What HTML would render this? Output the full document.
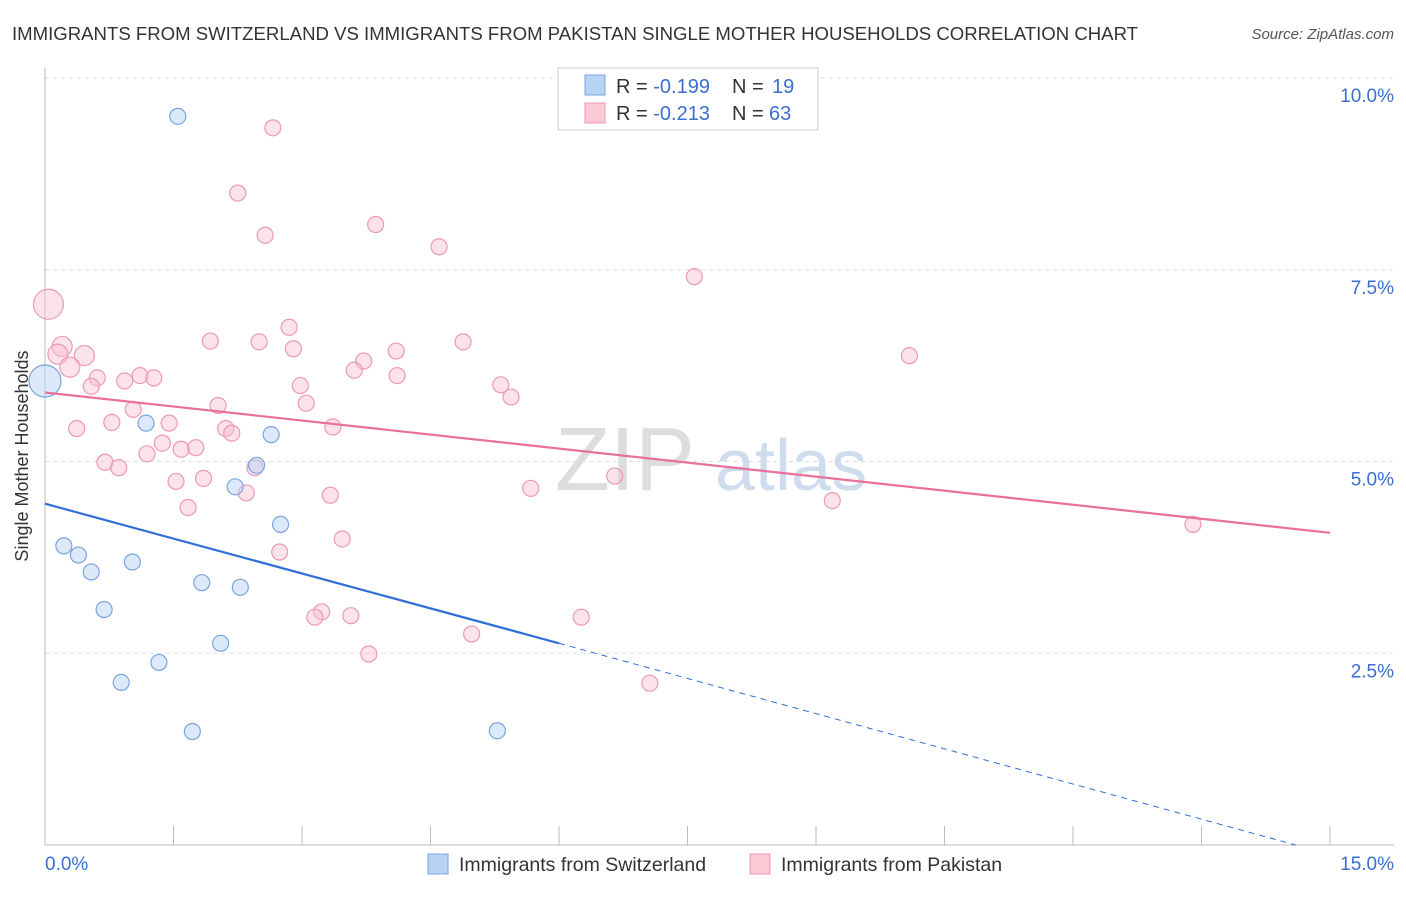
<!DOCTYPE html>
<html><head><meta charset="utf-8"><style>
body{margin:0;background:#fff;font-family:"Liberation Sans",sans-serif;}
svg text{font-family:"Liberation Sans",sans-serif;}
</style></head><body>
<svg width="1406" height="892">
<text x="12" y="40" font-size="18" fill="#333" textLength="1126" lengthAdjust="spacingAndGlyphs">IMMIGRANTS FROM SWITZERLAND VS IMMIGRANTS FROM PAKISTAN SINGLE MOTHER HOUSEHOLDS CORRELATION CHART</text>
<text x="1394" y="39" font-size="15" fill="#555" font-style="italic" text-anchor="end">Source: ZipAtlas.com</text>
<g id="grid"></g>
<text x="555" y="490" font-size="90" fill="#ddd" font-family="Liberation Serif">ZIP</text>
<text x="715" y="490" font-size="72" fill="#cfdcee">atlas</text>
<g id="marks"></g>
<text x="28" y="456" font-size="18" fill="#333" text-anchor="middle" transform="rotate(-90 28 456)">Single Mother Households</text>
<text x="45" y="870" font-size="19" fill="#3a6fd0">0.0%</text>
<text x="1394" y="870" font-size="19" fill="#3a6fd0" text-anchor="end">15.0%</text>
<rect x="558" y="68" width="260" height="62" fill="#fff" stroke="#ccc"/>
<rect x="585" y="75" width="20" height="20" fill="#b9d3f5" stroke="#7aa4e0"/>
<rect x="585" y="103" width="20" height="20" fill="#fbc8d6" stroke="#eb9ab1"/>
<text x="616" y="93" font-size="20" fill="#333">R = <tspan fill="#3a6fd0">-0.199</tspan></text>
<text x="732" y="93" font-size="20" fill="#333">N = </text>
<text x="772" y="93" font-size="20" fill="#3a6fd0">19</text>
<text x="616" y="120" font-size="20" fill="#333">R = <tspan fill="#3a6fd0">-0.213</tspan></text>
<text x="732" y="120" font-size="20" fill="#333">N = </text>
<text x="769" y="120" font-size="20" fill="#3a6fd0">63</text>
<rect x="428" y="854" width="20" height="20" fill="#b9d3f5" stroke="#7aa4e0"/>
<text x="459" y="871" font-size="19.5" fill="#333">Immigrants from Switzerland</text>
<rect x="750" y="854" width="20" height="20" fill="#fbc8d6" stroke="#eb9ab1"/>
<text x="781" y="871" font-size="19.5" fill="#333">Immigrants from Pakistan</text>
</svg>
<script>
const yTicks=[2.5,5.0,7.5,10.0];
const swissX=[1.55,0.0,1.18,2.64,2.47,2.22,2.75,0.22,0.39,0.54,1.02,1.83,2.28,0.69,2.05,1.33,0.89,1.72,5.28];
const swissY=[9.5,6.05,5.5,5.35,4.95,4.67,4.18,3.9,3.78,3.56,3.69,3.42,3.36,3.07,2.63,2.38,2.12,1.48,1.49];
const swissR=[8,16,8,8,8,8,8,8,8,8,8,8,8,8,8,8,8,8,8];
const pakX=[2.66,2.25,2.57,3.86,4.6,7.58,0.04,0.2,0.15,0.46,0.29,2.85,1.93,2.5,2.9,4.1,4.88,3.72,3.61,4.11,10.09,0.61,0.93,1.11,1.27,0.54,2.98,5.32,5.44,3.05,1.03,2.02,0.78,1.45,0.37,2.11,2.18,3.36,1.37,1.59,1.76,0.7,1.19,0.86,2.45,1.53,1.85,6.65,2.35,3.33,5.67,1.67,9.19,13.4,3.47,2.74,3.23,3.15,3.57,6.26,4.98,3.78,7.06];
const pakY=[9.35,8.5,7.95,8.09,7.8,7.41,7.05,6.5,6.4,6.38,6.23,6.75,6.57,6.56,6.47,6.44,6.56,6.31,6.19,6.12,6.38,6.09,6.05,6.12,6.09,5.98,5.99,6.0,5.84,5.76,5.68,5.73,5.51,5.5,5.43,5.43,5.37,5.45,5.24,5.16,5.18,4.99,5.1,4.92,4.92,4.74,4.78,4.81,4.59,4.56,4.65,4.4,4.49,4.18,3.99,3.82,3.04,2.97,2.99,2.97,2.75,2.49,2.11];
const pakR=[8,8,8,8,8,8,15,10,10,10,10,8,8,8,8,8,8,8,8,8,8,8,8,8,8,8,8,8,8,8,8,8,8,8,8,8,8,8,8,8,8,8,8,8,8,8,8,8,8,8,8,8,8,8,8,8,8,8,8,8,8,8,8];
const swissLine=[4.45,2.63,0.0];
const pakLine=[5.9,4.07];
const X0=45,X1=1330,Y0=845,YS=76.7;
const sx=v=>X0+(X1-X0)*v/15, sy=v=>Y0-v*YS;
const NS="http://www.w3.org/2000/svg";
function mk(t,a,p){const e=document.createElementNS(NS,t);for(const k in a)e.setAttribute(k,a[k]);p.appendChild(e);return e;}
const g=document.getElementById('grid'),m=document.getElementById('marks');
yTicks.forEach(v=>{
 const l=mk('line',{x1:45,x2:1394,y1:sy(v),y2:sy(v),stroke:'#ddd','stroke-dasharray':'4,4'},g);
 
 
 const t=mk('text',{x:1394,y:sy(v)+24,'font-size':19,fill:'#3a6fd0','text-anchor':'end'},g);
 t.textContent=v.toFixed(1)+'%';
 
 
});
const ax=mk('line',{x1:45,x2:1394,y1:845,y2:845,stroke:'#bbb'},g);


const ay=mk('line',{x1:45,x2:45,y1:68,y2:845,stroke:'#bbb'},g);


for(let i=0;i<=10;i++){const t=mk('line',{x1:sx(i*1.5),x2:sx(i*1.5),y1:826,y2:845,stroke:'#bbb'},g);
 
 }
pakX.forEach((x,i)=>{const c=mk('circle',{cx:sx(x),cy:sy(pakY[i]),r:pakR[i],fill:'rgba(248,190,206,0.45)',stroke:'#eb9ab1','stroke-width':1.2},m);
 
 });
swissX.forEach((x,i)=>{const c=mk('circle',{cx:sx(x),cy:sy(swissY[i]),r:swissR[i],fill:'rgba(185,211,245,0.5)',stroke:'#7aa4e0','stroke-width':1.2},m);
 
 });
const pl=mk('line',{x1:sx(0),y1:sy(pakLine[0]),x2:sx(15),y2:sy(pakLine[1]),stroke:'#e8709a','stroke-width':2.2},m);


const bl=mk('line',{x1:sx(0),y1:sy(swissLine[0]),x2:sx(6),y2:sy(swissLine[1]),stroke:'#2f6fd6','stroke-width':2.2},m);


const bd=mk('line',{x1:sx(6),y1:sy(swissLine[1]),x2:sx(14.6),y2:sy(swissLine[2]),stroke:'#2f6fd6','stroke-width':1,'stroke-dasharray':'6,5'},m);


</script>
</body></html>
